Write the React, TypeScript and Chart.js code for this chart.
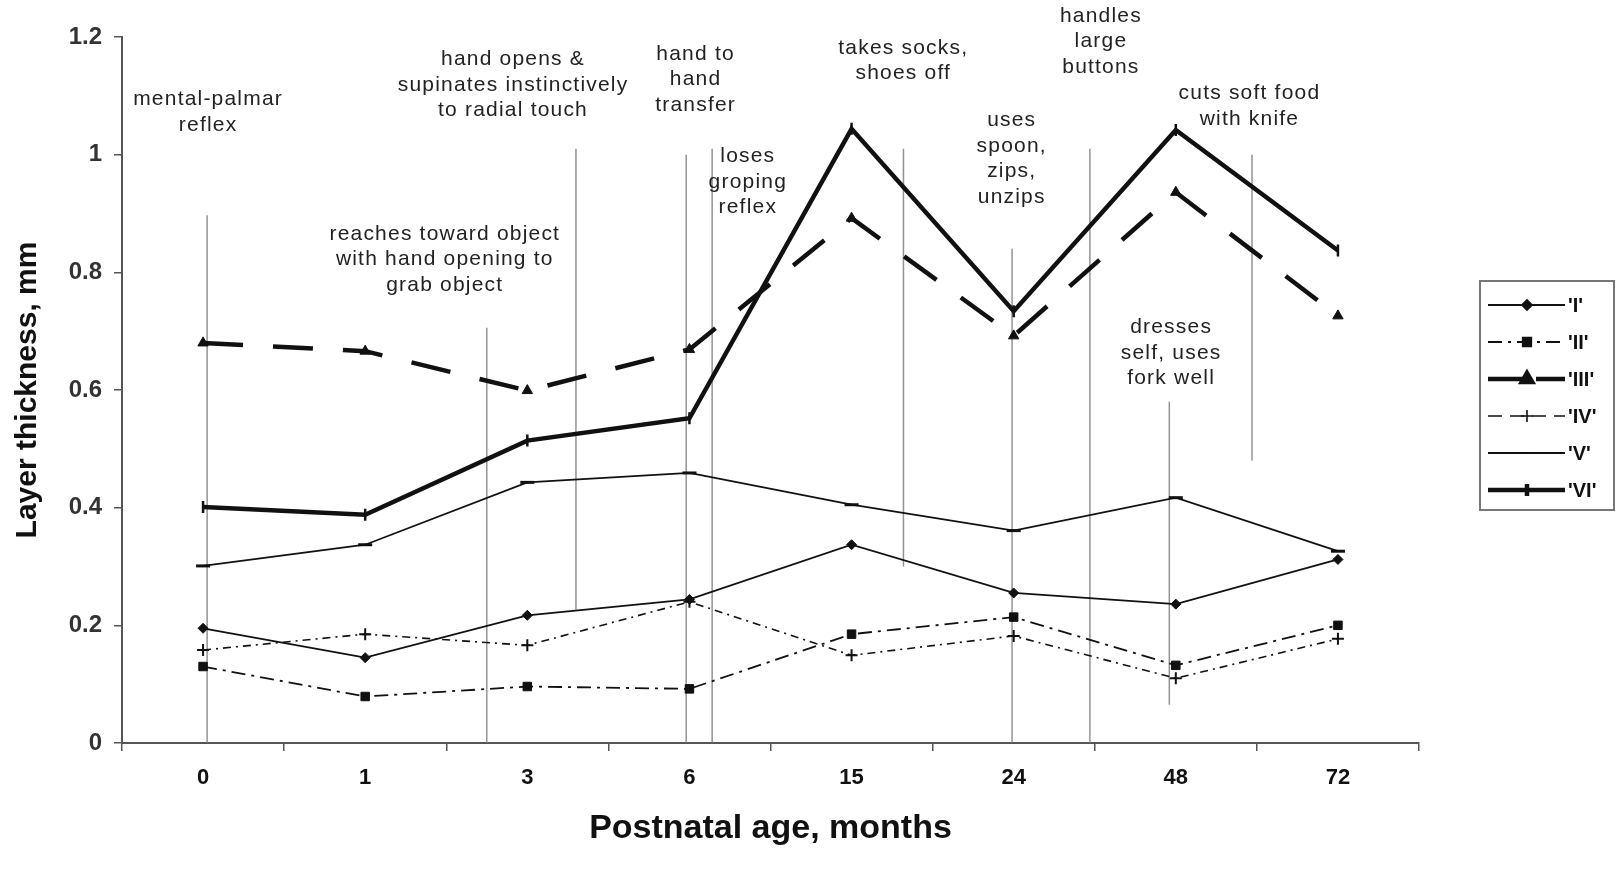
import React, { useEffect, useRef } from "react";
import { Chart, registerables } from "chart.js";
import { drawPoint } from "chart.js/helpers";

Chart.register(...registerables);

// ---- data ----
const categories = ["0", "1", "3", "6", "15", "24", "48", "72"];
const seriesLabels = ["'I'", "'II'", "'III'", "'IV'", "'V'", "'VI'"];
const layerI = [0.195, 0.145, 0.217, 0.244, 0.337, 0.255, 0.236, 0.312];
const layerII = [0.13, 0.079, 0.096, 0.092, 0.185, 0.214, 0.132, 0.2];
const layerIII = [0.68, 0.666, 0.599, 0.669, 0.892, 0.692, 0.936, 0.726];
const layerIV = [0.158, 0.185, 0.166, 0.24, 0.149, 0.182, 0.11, 0.177];
const layerV = [0.301, 0.337, 0.443, 0.459, 0.405, 0.361, 0.417, 0.326];
const layerVI = [0.401, 0.388, 0.514, 0.552, 1.044, 0.734, 1.042, 0.837];
const yTickLabels = ["0", "0.2", "0.4", "0.6", "0.8", "1", "1.2"];

// milestone annotations (x in category units, y in data units)
const milestoneTexts = [
  ["mental-palmar", "reflex"],
  ["hand opens &", "supinates instinctively", "to radial touch"],
  ["reaches toward object", "with hand opening to", "grab object"],
  ["hand to", "hand", "transfer"],
  ["loses", "groping", "reflex"],
  ["takes socks,", "shoes off"],
  ["uses", "spoon,", "zips,", "unzips"],
  ["handles", "large", "buttons"],
  ["cuts soft food", "with knife"],
  ["dresses", "self, uses", "fork well"],
];
const milestoneTextX = [0.031, 1.912, 1.491, 3.038, 3.36, 4.319, 4.988, 5.538, 6.454, 5.971];
const milestoneTextY = [1.094, 1.162, 0.865, 1.171, 0.997, 1.181, 1.058, 1.236, 1.104, 0.706];
const milestoneLineX = [0.025, 1.75, 2.3, 2.98, 3.14, 4.32, 4.99, 5.47, 5.96, 6.47];
const milestoneLineTop = [0.897, 0.706, 1.01, 1.0, 1.01, 1.01, 0.84, 1.01, 0.58, 1.0];
const milestoneLineBottom = [0, 0, 0.227, 0, 0, 0.3, 0, 0, 0.065, 0.48];

const FONT = "'Liberation Sans', Arial, sans-serif";
const INK = "#111";

const milestonePlugin = {
  id: "milestones",
  beforeDatasetsDraw(chart: any) {
    const { ctx, scales } = chart;
    const x = scales.x;
    const y = scales.y;
    const x0 = x.getPixelForValue(0);
    const x1 = x.getPixelForValue(1);
    const fx = (f: number) => x0 + f * (x1 - x0);
    ctx.save();
    ctx.strokeStyle = "rgba(120,120,120,0.8)";
    ctx.lineWidth = 1.5;
    milestoneLineX.forEach((f, i) => {
      ctx.beginPath();
      ctx.moveTo(fx(f), y.getPixelForValue(milestoneLineTop[i]));
      ctx.lineTo(fx(f), y.getPixelForValue(milestoneLineBottom[i]));
      ctx.stroke();
    });
    ctx.restore();
  },
  afterDraw(chart: any) {
    const { ctx, scales, chartArea } = chart;
    const x = scales.x;
    const y = scales.y;
    const x0 = x.getPixelForValue(0);
    const x1 = x.getPixelForValue(1);
    const fx = (f: number) => x0 + f * (x1 - x0);
    ctx.save();
    ctx.fillStyle = "#222";
    ctx.font = `21px ${FONT}`;
    (ctx as any).letterSpacing = "1.2px";
    ctx.textAlign = "center";
    ctx.textBaseline = "middle";
    milestoneTexts.forEach((lines, i) => {
      const px = fx(milestoneTextX[i]);
      const py = y.getPixelForValue(milestoneTextY[i]);
      lines.forEach((t, k) => ctx.fillText(t, px, py + k * 25.5));
    });
    (ctx as any).letterSpacing = "0px";

    // legend
    const left = chartArea.right + 61;
    const top = 281;
    const w = 134;
    const h = 229;
    ctx.strokeStyle = "#777";
    ctx.lineWidth = 2;
    ctx.strokeRect(left, top, w, h);
    ctx.font = `bold 20px ${FONT}`;
    ctx.textAlign = "left";
    chart.data.datasets.forEach((ds: any, i: number) => {
      const cy = top + 24 + i * 37;
      ctx.save();
      ctx.strokeStyle = INK;
      ctx.lineWidth = ds.borderWidth;
      ctx.setLineDash(ds.legendDash || ds.borderDash || []);
      ctx.beginPath();
      ctx.moveTo(left + 8, cy);
      ctx.lineTo(left + 85, cy);
      ctx.stroke();
      ctx.setLineDash([]);
      ctx.fillStyle = INK;
      drawPoint(ctx, {
        pointStyle: ds.pointStyle,
        rotation: ds.pointRotation || 0,
        radius: ds.pointRadius,
        borderWidth: ds.pointBorderWidth,
      } as any, left + 47, cy);
      ctx.restore();
      ctx.fillStyle = INK;
      ctx.fillText(ds.label, left + 88, cy + 1);
    });
    ctx.restore();
  },
};

export default function App() {
  const ref = useRef<HTMLCanvasElement | null>(null);
  useEffect(() => {
    if (!ref.current) return;
    const base = {
      borderColor: INK,
      backgroundColor: INK,
      pointBackgroundColor: INK,
      pointBorderColor: INK,
      fill: false,
      tension: 0,
    };
    const chart = new Chart(ref.current, {
      type: "line",
      data: {
        labels: categories,
        datasets: [
          { ...base, label: seriesLabels[0], data: layerI, borderWidth: 1.8, pointStyle: "rectRot", pointRadius: 5, pointBorderWidth: 1 },
          { ...base, label: seriesLabels[1], data: layerII, borderWidth: 1.8, borderDash: [14, 6, 3, 6], pointStyle: "rect", pointRadius: 6, pointBorderWidth: 1 },
          { ...base, label: seriesLabels[2], data: layerIII, borderWidth: 4.5, borderDash: [40, 30], legendDash: [40, 8], pointStyle: "triangle", pointRadius: 6, pointBorderWidth: 1 },
          { ...base, label: seriesLabels[3], data: layerIV, borderWidth: 1.6, borderDash: [8, 5, 2, 5], legendDash: [14, 8], pointStyle: "cross", pointRadius: 6, pointBorderWidth: 2 },
          { ...base, label: seriesLabels[4], data: layerV, borderWidth: 1.8, pointStyle: "line", pointRadius: 7, pointBorderWidth: 3 },
          { ...base, label: seriesLabels[5], data: layerVI, borderWidth: 4.5, pointStyle: "line", pointRotation: 90, pointRadius: 6, pointBorderWidth: 2.5 },
        ] as any,
      },
      options: {
        animation: false,
        responsive: true,
        maintainAspectRatio: false,
        layout: { padding: { left: 0, top: 37, right: 201, bottom: 0 } },
        plugins: { legend: { display: false }, tooltip: { enabled: false } },
        scales: {
          x: {
            type: "category",
            offset: true,
            grid: { display: true, offset: true, drawOnChartArea: false, drawTicks: true, tickLength: 8, color: "#555", lineWidth: 1.5 },
            border: { display: true, color: "#555", width: 2 },
            ticks: { color: "#111", font: { family: FONT, size: 22, weight: "bold" }, padding: 14 },
            title: { display: true, text: "Postnatal age, months", color: INK, font: { family: FONT, size: 34, weight: "bold" }, padding: { top: 24, bottom: 24 } },
            afterFit(scale: any) { scale.height = 130; },
          },
          y: {
            min: 0,
            max: 1.2,
            grid: { display: true, drawOnChartArea: false, drawTicks: true, tickLength: 8, color: "#555", lineWidth: 1.5 },
            border: { display: true, color: "#555", width: 2 },
            ticks: {
              stepSize: 0.2,
              color: "#333",
              padding: 12,
              font: { family: FONT, size: 24, weight: "bold" },
              callback: (_v: any, i: number) => yTickLabels[i],
            },
            title: { display: true, text: "Layer thickness, mm", color: INK, font: { family: FONT, size: 30, weight: "bold" }, padding: { top: 10, bottom: 10 } },
            afterFit(scale: any) { scale.width = 122; },
          },
        },
      } as any,
      plugins: [milestonePlugin],
    });
    return () => chart.destroy();
  }, []);
  return (
    <div style={{ position: "fixed", left: 0, top: 0, width: 1620, height: 873, background: "#fff" }}>
      <canvas ref={ref} />
    </div>
  );
}
